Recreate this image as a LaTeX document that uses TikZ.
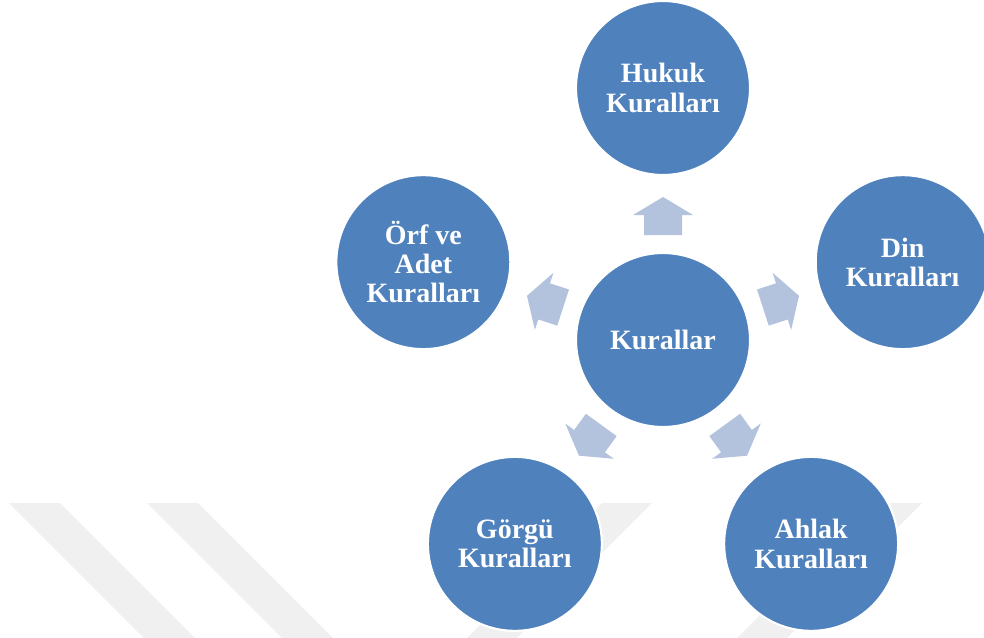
\documentclass[tikz,border=0pt]{standalone}
\usepackage{fontspec}
\setmainfont{Liberation Serif}
\usetikzlibrary{calc}
\begin{document}
\definecolor{ringblue}{RGB}{79,129,189}
\definecolor{arrowblue}{RGB}{179,195,222}
\definecolor{markgray}{RGB}{240,240,240}
\begin{tikzpicture}[x=0.75pt,y=0.75pt,
  bubble/.style={circle,fill=ringblue,draw=white,line width=1.6pt,
    minimum size=130.5pt,inner sep=0pt,text=white,align=center,
    font=\fontsize{21}{22}\selectfont\bfseries},
  blockarrow/.style={fill=arrowblue}]
\useasboundingbox (0,0) rectangle (984,637);
% faint background stripes
\fill[markgray] (9,134) -- (60,134) -- (200,-6) -- (149,-6) -- cycle;
\fill[markgray] (147,134) -- (198,134) -- (338,-6) -- (287,-6) -- cycle;
\fill[markgray] (602,134) -- (652,134) -- (512,-6) -- (462,-6) -- cycle;
\fill[markgray] (872,134) -- (922,134) -- (782,-6) -- (732,-6) -- cycle;
% centre and surrounding circles
\node[bubble] (kur) at (663,297) {Kurallar};
\node[bubble] (huk) at ($(kur)+(90:252)$) {Hukuk\\Kuralları};
\node[bubble] (din) at ($(kur)+(18:252)$) {Din\\Kuralları};
\node[bubble] (ahl) at ($(kur)+(-54:252)$) {Ahlak\\Kuralları};
\node[bubble] (gor) at ($(kur)+(-126:252)$) {Görgü\\Kuralları};
\node[bubble] (orf) at ($(kur)+(162:252)$) {Örf ve\\Adet\\Kuralları};
% outward block arrows
\foreach \a in {90,18,-54,-126,162}{
  \begin{scope}[shift={(kur.center)},rotate=\a]
    \fill[blockarrow] (105,-19) -- (125,-19) -- (125,-30) -- (143,0)
      -- (125,30) -- (125,19) -- (105,19) -- cycle;
  \end{scope}
}
\end{tikzpicture}
\end{document}
